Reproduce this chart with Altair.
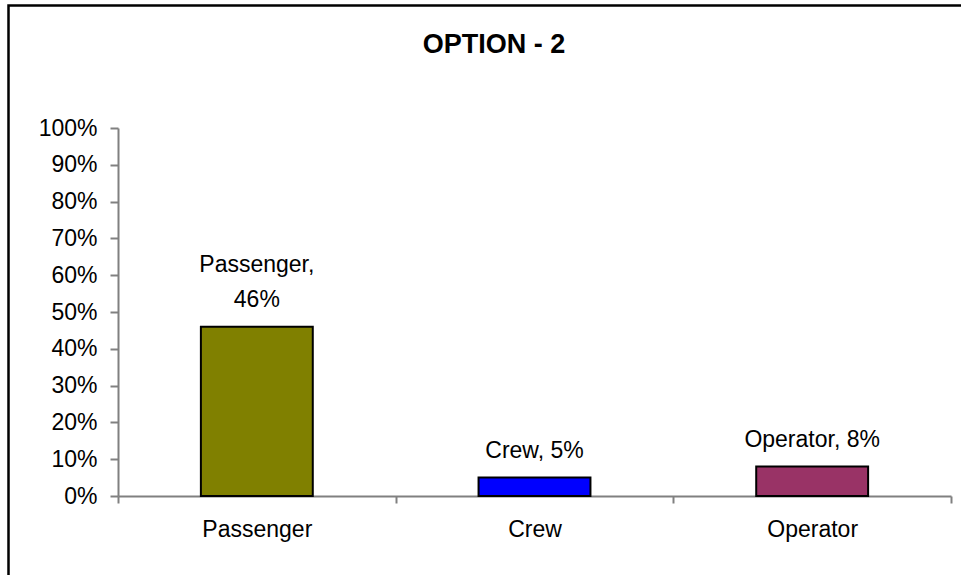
import altair as alt
import pandas as pd

categories = ["Passenger", "Crew", "Operator"]
values = [0.46, 0.05, 0.08]
label_line1 = ["Passenger,", "", ""]
label_line2 = ["46%", "Crew, 5%", "Operator, 8%"]
colors = ["#808000", "#0000FF", "#993366"]
y_ticks = [0, 0.1, 0.2, 0.3, 0.4, 0.5, 0.6, 0.7, 0.8, 0.9, 1.0]
title_text = "OPTION - 2"

df = pd.DataFrame({
    "cat": categories, "val": values,
    "l1": label_line1, "l2": label_line2, "color": colors,
})

FONT = "Liberation Sans"
FS = 23

x_enc = alt.X(
    "cat:N",
    sort=categories,
    scale=alt.Scale(paddingInner=0, paddingOuter=0),
    axis=alt.Axis(
        title=None, labelAngle=0, labelFontSize=FS, labelFont=FONT, labelColor="black",
        tickBand="extent", tickSize=7, tickColor="#808080", tickWidth=2,
        domainColor="#808080", domainWidth=2, labelPadding=15, grid=False,
    ),
)
y_enc = alt.Y(
    "val:Q",
    scale=alt.Scale(domain=[0, 1], nice=False),
    axis=alt.Axis(
        title=None, values=y_ticks, format=".0%", labelFontSize=FS, labelFont=FONT,
        labelColor="black", tickSize=8, tickColor="#808080", tickWidth=2,
        domainColor="#808080", domainWidth=2, labelPadding=13, grid=False,
        labelOverlap=False, tickCount=11,
    ),
)

frame = alt.Chart(alt.Data(values=[{"f": 1}])).mark_rect(
    fill=None, stroke="black", strokeWidth=2.5
).encode(
    x=alt.value(-109.5), y=alt.value(-122.5), x2=alt.value(1000), y2=alt.value(1000)
)

title = alt.Chart(alt.Data(values=[{"t": title_text}])).mark_text(
    font=FONT, fontSize=27, fontWeight="bold", color="black",
    align="center", baseline="alphabetic",
).encode(
    x=alt.value(376), y=alt.value(-75), text="t:N"
)

bars = alt.Chart(df).mark_bar(
    width=alt.RelativeBandSize(0.403), stroke="black", strokeWidth=2
).encode(
    x=x_enc,
    y=y_enc,
    color=alt.Color("color:N", scale=None),
)

text2 = alt.Chart(df).mark_text(
    font=FONT, fontSize=FS, color="black", baseline="alphabetic", dy=-20,
).encode(
    x=x_enc,
    y=y_enc,
    text="l2:N",
)

text1 = alt.Chart(df).mark_text(
    font=FONT, fontSize=FS, color="black", baseline="alphabetic", dy=-55,
).encode(
    x=x_enc,
    y=y_enc,
    text="l1:N",
)

chart = alt.layer(frame, title, bars, text2, text1).properties(
    width=833,
    height=368,
    padding={"left": 118, "top": 128, "right": 10, "bottom": 79},
    autosize=alt.AutoSizeParams(type="none"),
    background="white",
).configure_view(stroke=None, strokeWidth=0).configure_axis(grid=False)

chart.save("out.html", embed_options={"renderer": "svg", "actions": False})
